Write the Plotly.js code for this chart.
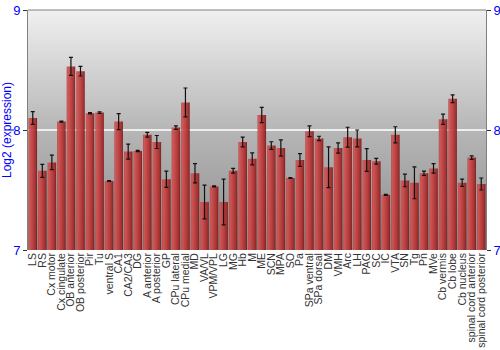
<!DOCTYPE html>
<html>
<head>
<meta charset="utf-8">
<script src="https://cdn.plot.ly/plotly-3.0.1.min.js"></script>
<style>html,body{margin:0;padding:0;background:#fff;}#chart{width:500px;height:350px;}</style>
</head>
<body>
<div id="chart"></div>
<script>
const regions = ["LS","RS","Cx motor","Cx cingulate","OB anterior","OB posterior","Pir","Tu","ventral S","CA1","CA2/CA3","DG","A anterior","A posterior","GP","CPu lateral","CPu medial","MD","VA/VL","VPM/VPL","LG","MG","Hb","M","ME","SCN","MPA","SO","Pa","SPa ventral","SPa dorsal","DM","VMH","Arc","LH","PAG","SC","IC","VTA","SN","Tg","Pn","MVe","Cb vermis","Cb lobe","Cb nucleus","spinal cord anterior","spinal cord posterior"];
const expression = [8.10,7.66,7.73,8.07,8.53,8.49,8.14,8.145,7.575,8.07,7.82,7.825,7.96,7.90,7.59,8.02,8.23,7.64,7.40,7.53,7.40,7.66,7.90,7.76,8.125,7.87,7.85,7.60,7.75,7.99,7.93,7.69,7.85,7.94,7.93,7.75,7.74,7.46,7.96,7.58,7.56,7.64,7.68,8.09,8.26,7.56,7.77,7.55];
const errors = [0.053,0.054,0.06,0.005,0.075,0.04,0.005,0.007,0.004,0.067,0.063,0.005,0.02,0.054,0.068,0.014,0.12,0.08,0.14,0.005,0.19,0.02,0.04,0.05,0.064,0.032,0.067,0.004,0.053,0.045,0.018,0.17,0.043,0.083,0.07,0.094,0.024,0.004,0.067,0.053,0.133,0.018,0.039,0.043,0.032,0.03,0.015,0.05];
const yTicks = [7,8,9];

const bgSvg = '<svg xmlns="http://www.w3.org/2000/svg" width="100" height="100" preserveAspectRatio="none"><defs><linearGradient id="g" x1="0" y1="0" x2="0" y2="1"><stop offset="0" stop-color="#f0f0f0"/><stop offset="0.5" stop-color="#b6b6b6"/><stop offset="1" stop-color="#8c8c8c"/></linearGradient></defs><rect width="100" height="100" fill="url(#g)"/></svg>';

const data = [{
  type: 'bar',
  x: regions,
  y: expression,
  marker: {color: '#b83434', opacity: 0.92, line: {width: 0}},
  error_y: {type: 'data', array: errors, visible: true, color: '#111', thickness: 1.2, width: 2},
  hoverinfo: 'x+y'
}, {
  type: 'scatter',
  mode: 'markers',
  x: regions,
  y: expression,
  yaxis: 'y2',
  marker: {opacity: 0, size: 1},
  hoverinfo: 'skip',
  showlegend: false
}];

const layout = {
  width: 500, height: 350,
  margin: {l: 28, r: 14, t: 10, b: 100},
  paper_bgcolor: '#ffffff',
  plot_bgcolor: 'rgba(0,0,0,0)',
  showlegend: false,
  bargap: 0.1,
  font: {family: 'Liberation Sans, Arial, sans-serif'},
  xaxis: {
    type: 'category',
    range: [-0.5, regions.length - 0.5],
    tickmode: 'array',
    tickvals: regions,
    ticktext: regions,
    tickangle: -90,
    tickfont: {size: 10.5, color: '#333'},
    ticks: '',
    showline: false,
    showgrid: false,
    fixedrange: true
  },
  yaxis: {
    range: [7, 9],
    tickvals: yTicks,
    ticktext: yTicks.map(String),
    tickfont: {size: 13, color: '#0000ff'},
    ticks: 'outside', ticklen: 4, tickcolor: '#333',
    showline: true, linecolor: '#808080', linewidth: 1,
    showgrid: true, gridcolor: '#eeeeee', gridwidth: 1.5,
    zeroline: false,
    title: {text: 'Log2 (expression)', font: {size: 12, color: '#0000ff'}, standoff: 0}
  },
  yaxis2: {
    range: [7, 9],
    overlaying: 'y', side: 'right', anchor: 'x',
    tickvals: yTicks,
    ticktext: yTicks.map(String),
    tickfont: {size: 13, color: '#0000ff'},
    ticks: 'outside', ticklen: 4, tickcolor: '#333',
    showline: true, linecolor: '#808080', linewidth: 1,
    showgrid: false, zeroline: false
  },
  images: [{
    source: 'data:image/svg+xml;charset=utf-8,' + encodeURIComponent(bgSvg),
    xref: 'paper', yref: 'paper', x: 0, y: 1, sizex: 1, sizey: 1,
    sizing: 'stretch', layer: 'below', xanchor: 'left', yanchor: 'top'
  }],
  shapes: [{type: 'line', xref: 'paper', yref: 'paper', x0: 0, x1: 1, y0: 1, y1: 1, line: {color: '#808080', width: 1}}]
};

Plotly.newPlot('chart', data, layout, {displayModeBar: false, staticPlot: true}).then(function(gd){
  const svg = gd.querySelector('svg.main-svg');
  const ns = 'http://www.w3.org/2000/svg';
  let defs = svg.querySelector('defs');
  if (!defs) { defs = document.createElementNS(ns, 'defs'); svg.insertBefore(defs, svg.firstChild); }
  const lg = document.createElementNS(ns, 'linearGradient');
  lg.setAttribute('id', 'barGrad');
  lg.setAttribute('x1', '0'); lg.setAttribute('y1', '0'); lg.setAttribute('x2', '1'); lg.setAttribute('y2', '0');
  [[0,'#b24444'],[0.12,'#d05252'],[0.5,'#c03a3a'],[0.85,'#9c2626'],[1,'#701414']].forEach(function(s){
    const st = document.createElementNS(ns, 'stop');
    st.setAttribute('offset', s[0]); st.setAttribute('stop-color', s[1]);
    lg.appendChild(st);
  });
  defs.appendChild(lg);
  gd.querySelectorAll('.trace.bars .point path').forEach(function(p){
    p.style.fill = 'url(#barGrad)';
  });
});
</script>
</body>
</html>
